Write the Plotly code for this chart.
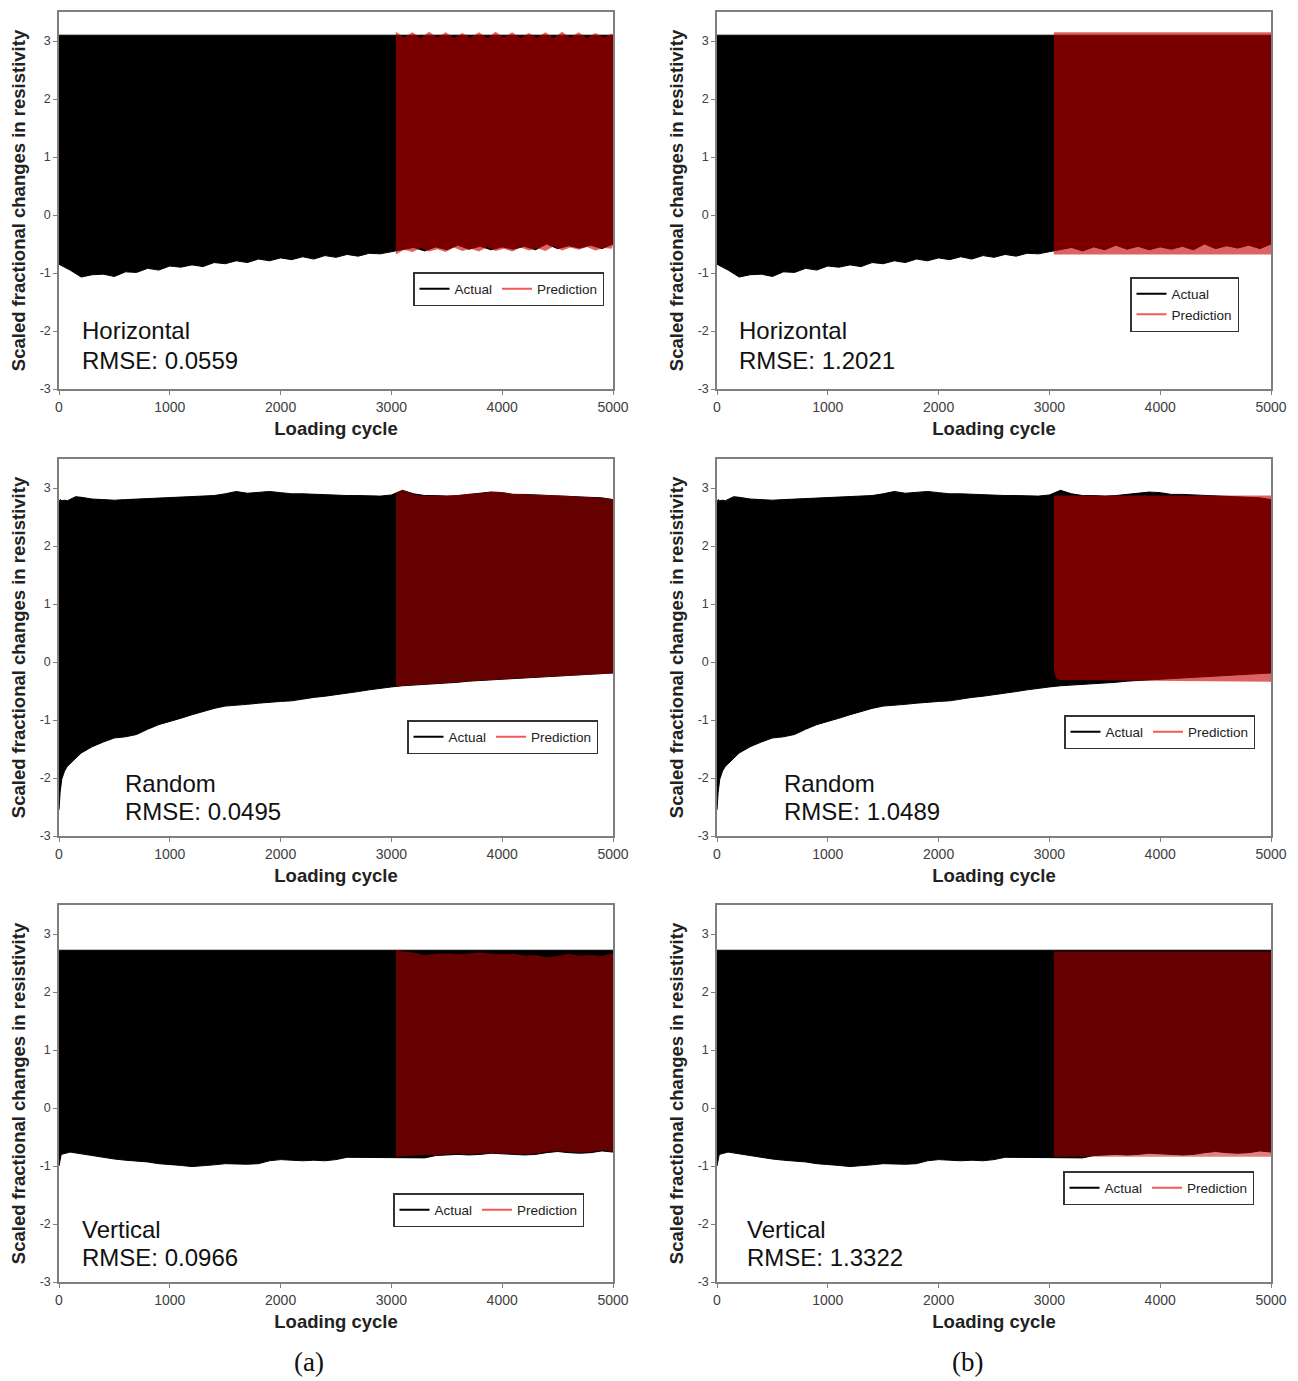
import plotly.graph_objects as go

W, H = 1298, 1381

# ---------------- data ----------------
# Horizontal: actual
h_act_up_x = [0, 5000]
h_act_up = [3.10, 3.10]
h_act_lo_x = list(range(0, 5001, 100))
h_act_lo = [-0.85, -0.95, -1.07, -1.03, -1.02, -1.06, -0.98, -0.99, -0.92, -0.95,
            -0.88, -0.90, -0.86, -0.89, -0.82, -0.84, -0.79, -0.82, -0.76, -0.79,
            -0.74, -0.77, -0.72, -0.76, -0.70, -0.73, -0.68, -0.71, -0.66, -0.67,
            -0.63, -0.60, -0.56, -0.62, -0.55, -0.60, -0.52, -0.59, -0.54, -0.60,
            -0.55, -0.59, -0.54, -0.60, -0.50, -0.58, -0.53, -0.57, -0.52, -0.58,
            -0.50]
# Horizontal: prediction (a)
h_pa_x = [3040, 3115, 3190, 3265, 3340, 3415, 3490, 3565, 3640, 3715, 3790, 3865,
          3940, 4015, 4090, 4165, 4240, 4315, 4390, 4465, 4540, 4615, 4690, 4765,
          4840, 4915, 4990, 5000]
h_pa_up = [3.16, 3.06, 3.15, 3.05, 3.16, 3.06, 3.15, 3.05, 3.14, 3.06, 3.15, 3.05,
           3.16, 3.06, 3.15, 3.05, 3.14, 3.06, 3.15, 3.05, 3.16, 3.06, 3.15, 3.05,
           3.14, 3.06, 3.13, 3.10]
h_pa_lo = [-0.68, -0.60, -0.64, -0.57, -0.63, -0.59, -0.64, -0.56, -0.62, -0.58,
           -0.63, -0.55, -0.62, -0.58, -0.63, -0.56, -0.61, -0.57, -0.62, -0.54,
           -0.61, -0.56, -0.60, -0.55, -0.61, -0.57, -0.58, -0.52]
# Horizontal: prediction (b)
h_pb_x = [3040, 5000]
h_pb_up = [3.15, 3.15]
h_pb_lo = [-0.68, -0.68]

# Random: actual
r_x = [0, 10, 25, 50, 75, 100, 150, 200] + list(range(300, 5001, 100))
r_act_up = [2.76, 2.80, 2.78, 2.79, 2.78, 2.80, 2.85, 2.84,
            2.81, 2.80, 2.79, 2.80, 2.81, 2.82, 2.83, 2.84, 2.84, 2.86,
            2.86, 2.87, 2.90, 2.94, 2.91, 2.92, 2.94, 2.92, 2.90, 2.90,
            2.89, 2.88, 2.88, 2.87, 2.87, 2.86, 2.86, 2.88, 2.96, 2.90,
            2.87, 2.87, 2.86, 2.87, 2.89, 2.90, 2.93, 2.92, 2.89, 2.89,
            2.88, 2.88, 2.87, 2.86, 2.85, 2.84, 2.83, 2.80]
r_act_lo = [-2.55, -2.25, -2.02, -1.88, -1.80, -1.74, -1.66, -1.57,
            -1.46, -1.38, -1.31, -1.29, -1.25, -1.16, -1.08, -1.03, -0.97, -0.91,
            -0.85, -0.80, -0.76, -0.75, -0.73, -0.71, -0.69, -0.68, -0.67, -0.64,
            -0.61, -0.59, -0.57, -0.54, -0.51, -0.48, -0.45, -0.43, -0.41, -0.40,
            -0.38, -0.37, -0.36, -0.35, -0.33, -0.31, -0.30, -0.29, -0.28, -0.27,
            -0.26, -0.25, -0.24, -0.23, -0.22, -0.21, -0.20, -0.19]
# Random: prediction (a)
r_pa_x = [3040] + list(range(3100, 5001, 100))
r_pa_up = [2.90, 2.97, 2.89, 2.86, 2.87, 2.87, 2.88, 2.90, 2.91, 2.94, 2.93,
           2.90, 2.89, 2.89, 2.88, 2.88, 2.86, 2.85, 2.84, 2.83, 2.81]
r_pa_lo = [-0.42, -0.41, -0.40, -0.39, -0.37, -0.36, -0.35, -0.33, -0.31, -0.30,
           -0.29, -0.28, -0.27, -0.26, -0.25, -0.24, -0.23, -0.22, -0.21, -0.21, -0.20]
# Random: prediction (b)
r_pb_x = [3040, 3045, 3060, 3090, 3200, 5000]
r_pb_up = [2.86, 2.87, 2.87, 2.87, 2.87, 2.87]
r_pb_lo = [-0.05, -0.18, -0.27, -0.31, -0.32, -0.34]

# Vertical: actual
v_act_up_x = [0, 5000]
v_act_up = [2.72, 2.72]
v_act_lo_x = [0, 20] + list(range(100, 5001, 100))
v_act_lo = [-1.00, -0.80, -0.76, -0.78, -0.82, -0.85, -0.88, -0.90, -0.92, -0.93,
            -0.96, -0.98, -0.99, -1.01, -1.00, -0.98, -0.96, -0.96, -0.97, -0.96,
            -0.91, -0.89, -0.90, -0.91, -0.90, -0.91, -0.89, -0.85, -0.86, -0.85,
            -0.85, -0.85, -0.85, -0.86, -0.86, -0.82, -0.81, -0.80, -0.81, -0.80,
            -0.78, -0.79, -0.80, -0.81, -0.80, -0.77, -0.75, -0.77, -0.78, -0.77,
            -0.74, -0.76]
# Vertical: prediction (a)
v_pa_x = [3040] + list(range(3100, 5001, 100))
v_pa_up = [2.73, 2.70, 2.68, 2.64, 2.66, 2.67, 2.65, 2.66, 2.68, 2.66, 2.65,
           2.66, 2.63, 2.64, 2.60, 2.62, 2.66, 2.63, 2.64, 2.62, 2.67]
v_pa_lo = [-0.84, -0.83, -0.82, -0.81, -0.82, -0.80, -0.79, -0.80, -0.79, -0.78,
           -0.78, -0.79, -0.80, -0.79, -0.76, -0.74, -0.76, -0.77, -0.76, -0.73, -0.75]
# Vertical: prediction (b)
v_pb_x = [3040, 5000]
v_pb_up = [2.70, 2.70]
v_pb_lo = [-0.84, -0.84]

case_names = ["Horizontal", "Horizontal", "Random", "Random", "Vertical", "Vertical"]
rmse_labels = ["RMSE: 0.0559", "RMSE: 1.2021", "RMSE: 0.0495",
               "RMSE: 1.0489", "RMSE: 0.0966", "RMSE: 1.3322"]
x_ticks = [0, 1000, 2000, 3000, 4000, 5000]
y_ticks = [-3, -2, -1, 0, 1, 2, 3]
panel_labels = ["(a)", "(b)"]

# ---------------- layout helpers ----------------
def px_x(p):
    return p / W

def px_y(p):
    return 1 - p / H

col_px = [(59, 613), (717, 1271)]
row_px = [(12, 389), (459, 836), (905, 1282)]

actual_sets = [
    (h_act_up_x, h_act_up, h_act_lo_x, h_act_lo),
    (r_x, r_act_up, r_x, r_act_lo),
    (v_act_up_x, v_act_up, v_act_lo_x, v_act_lo),
]
pred_sets = [
    (h_pa_x, h_pa_up, h_pa_lo), (h_pb_x, h_pb_up, h_pb_lo),
    (r_pa_x, r_pa_up, r_pa_lo), (r_pb_x, r_pb_up, r_pb_lo),
    (v_pa_x, v_pa_up, v_pa_lo), (v_pb_x, v_pb_up, v_pb_lo),
]
pred_colors = ["rgba(200,0,0,0.61)", "rgba(200,0,0,0.61)",
               "rgba(200,0,0,0.50)", "rgba(200,0,0,0.61)",
               "rgba(200,0,0,0.50)", "rgba(200,0,0,0.50)"]

legend_cfg = [
    dict(x=px_x(604), y=px_y(272), orientation="h"),
    dict(x=px_x(1239), y=px_y(277), orientation="v"),
    dict(x=px_x(598), y=px_y(720), orientation="h"),
    dict(x=px_x(1255), y=px_y(715), orientation="h"),
    dict(x=px_x(584), y=px_y(1193), orientation="h"),
    dict(x=px_x(1254), y=px_y(1171), orientation="h"),
]
label_pos = [(80, 331, 360), (737, 331, 360), (123, 783, 811),
             (782, 783, 811), (80, 1229, 1257), (745, 1229, 1257)]

FONT = "Liberation Sans, Arial, sans-serif"

fig = go.Figure()
layout = dict(width=W, height=H, autosize=False,
              margin=dict(l=0, r=0, t=0, b=0, pad=0, autoexpand=False),
              plot_bgcolor="white", paper_bgcolor="white",
              font=dict(family=FONT, color="#222"), showlegend=True,
              annotations=[])

for i in range(6):
    r, c = divmod(i, 2)
    n = i + 1
    xa = "x" if n == 1 else f"x{n}"
    ya = "y" if n == 1 else f"y{n}"
    lg = "legend" if n == 1 else f"legend{n}"

    ux, uy, lx, ly = actual_sets[r]
    fig.add_trace(go.Scatter(
        x=list(ux) + list(lx)[::-1], y=list(uy) + list(ly)[::-1],
        mode="lines", fill="toself", fillcolor="black",
        line=dict(color="black", width=1), showlegend=False,
        hoverinfo="skip", xaxis=xa, yaxis=ya))

    px_, pu, pl = pred_sets[i]
    fig.add_trace(go.Scatter(
        x=list(px_) + list(px_)[::-1], y=list(pu) + list(pl)[::-1],
        mode="lines", fill="toself", fillcolor=pred_colors[i],
        line=dict(color=pred_colors[i], width=0), showlegend=False,
        hoverinfo="skip", xaxis=xa, yaxis=ya))

    # legend entries
    fig.add_trace(go.Scatter(x=[None], y=[None], mode="lines", name="Actual",
                             line=dict(color="black", width=2),
                             legend=lg, xaxis=xa, yaxis=ya))
    fig.add_trace(go.Scatter(x=[None], y=[None], mode="lines", name="Prediction",
                             line=dict(color="#f05a5a", width=2),
                             legend=lg, xaxis=xa, yaxis=ya))

    x0, x1 = col_px[c]
    y0, y1 = row_px[r]
    axis_common = dict(showline=True, linecolor="#7f7f7f", linewidth=1.5,
                       mirror=True, ticks="outside", ticklen=4,
                       tickcolor="#7f7f7f", showgrid=False, zeroline=False,
                       automargin=False)
    layout["xaxis" if n == 1 else f"xaxis{n}"] = dict(
        domain=[px_x(x0), px_x(x1)], anchor=ya, range=[0, 5000],
        tickvals=x_ticks, ticktext=[str(t) for t in x_ticks],
        tickfont=dict(size=14, color="#404040"),
        title=dict(text="<b>Loading cycle</b>", standoff=9,
                   font=dict(size=18.5, color="#222")),
        **axis_common)
    layout["yaxis" if n == 1 else f"yaxis{n}"] = dict(
        domain=[px_y(y1), px_y(y0)], anchor=xa, range=[-3, 3.5],
        tickvals=y_ticks, ticktext=[str(t) for t in y_ticks],
        tickfont=dict(size=12.5, color="#404040"),
        title=dict(text="<b>Scaled fractional changes in resistivity</b>",
                   standoff=9, font=dict(size=18.5, color="#222")),
        **axis_common)

    lc = legend_cfg[i]
    layout[lg] = dict(x=lc["x"], y=lc["y"], xanchor="right", yanchor="top",
                      orientation=lc["orientation"], bgcolor="white",
                      bordercolor="#333", borderwidth=1.5,
                      font=dict(size=13.5, color="#222", family=FONT),
                      itemwidth=30, tracegroupgap=2)

    lx_, ly1, ly2 = label_pos[i]
    layout["annotations"].append(dict(
        x=px_x(lx_), y=px_y(ly1), xref="paper", yref="paper",
        xanchor="left", yanchor="middle", showarrow=False,
        text=case_names[i], font=dict(size=24, color="#111", family=FONT)))
    layout["annotations"].append(dict(
        x=px_x(lx_), y=px_y(ly2), xref="paper", yref="paper",
        xanchor="left", yanchor="middle", showarrow=False,
        text=rmse_labels[i], font=dict(size=24, color="#111", family=FONT)))

for j, (cx) in enumerate([309, 967]):
    layout["annotations"].append(dict(
        x=px_x(cx), y=px_y(1362), xref="paper", yref="paper",
        xanchor="center", yanchor="middle", showarrow=False,
        text=panel_labels[j],
        font=dict(size=27, color="#111", family="Liberation Serif, Times New Roman, serif")))

fig.update_layout(**layout)
fig.write_html("out.html",
               config=dict(displayModeBar=False, responsive=False),
               post_script="document.body.style.margin='0';"
                           "document.body.style.overflow='hidden';")
